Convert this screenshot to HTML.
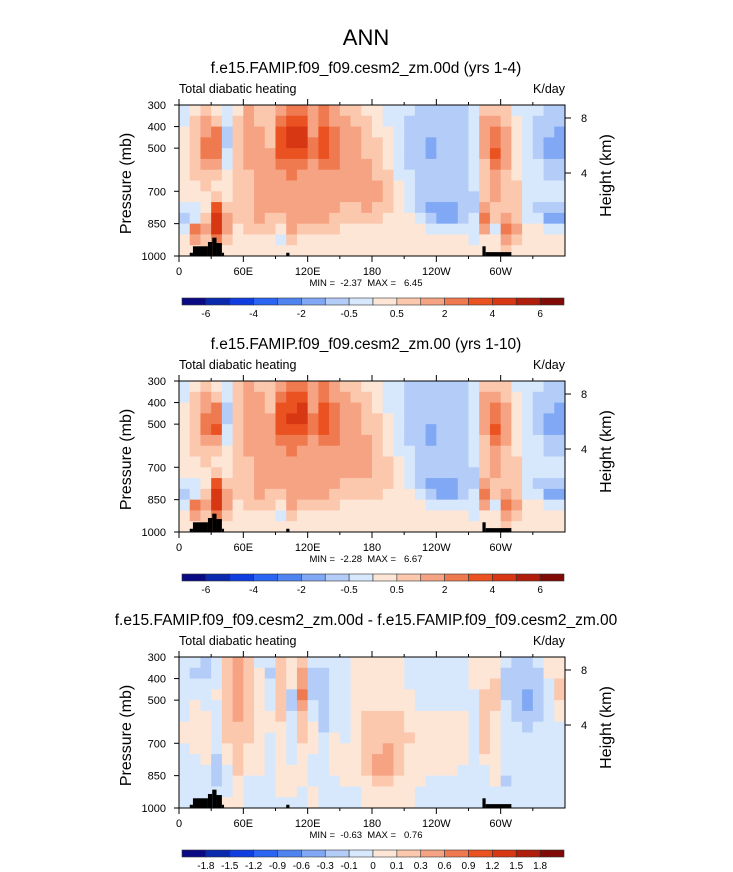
<!DOCTYPE html>
<html><head><meta charset="utf-8">
<style>
html,body{margin:0;padding:0;background:#fff;}
svg{display:block;font-family:"Liberation Sans",sans-serif;}
</style></head>
<body>
<svg id="fig" width="733" height="872" viewBox="0 0 733 872" xmlns="http://www.w3.org/2000/svg">
<text x="366" y="45" font-size="22" text-anchor="middle">ANN</text>
</svg>
<script>
// ---- data ----
const levels = [325,375,425,475,525,575,625,675,725,775,825,875,925,975];
const lonCenters = [5,15,25,35,45,55,65,75,85,95,105,115,125,135,145,155,165,175,185,195,205,215,225,235,245,255,265,275,285,295,305,315,325,335,345,355];
const xTickLabels = ["0","60E","120E","180","120W","60W"];
const xTickLons = [0,60,120,180,240,300];
const pTicks = [300,400,500,700,850,1000];
const hTicks = ["8","4"];
const boundsMain = [-6,-5,-4,-3,-2,-1,-0.5,0,0.5,1,2,3,4,5,6];
const labelsMain = ["-6","","-4","","-2","","-0.5","","0.5","","2","","4","","6"];
const boundsDiff = [-1.8,-1.5,-1.2,-0.9,-0.6,-0.3,-0.1,0,0.1,0.3,0.6,0.9,1.2,1.5,1.8];
const labelsDiff = ["-1.8","-1.5","-1.2","-0.9","-0.6","-0.3","-0.1","0","0.1","0.3","0.6","0.9","1.2","1.5","1.8"];
const colors = ["#0a0a85","#0a2aae","#0f3de0","#2a64f2","#4f84f0","#80a8f4","#b4cdf8","#d7e8fc","#fde6d6","#fbc7ad","#f5a383","#f07a50","#eb5222","#d73712","#b11d0b","#800a06"];
const topo = [[10,13,985],[13,27,955],[27,31,935],[31,35,915],[35,40,940],[40,42,985],[100,103,985],[283,286,955],[286,310,982]];
const heating4 = [
[-0.3,-0.3,0.3,0.3,0.3,0.3,0.3,0.3,0.3,-0.3,-0.8,-0.3,0.3,0.3],
[0.3,0.7,0.7,0.7,0.7,0.7,0.7,0.3,0.3,-0.3,-0.3,2,1,0.3],
[0.7,1.5,1.5,2.5,2.5,1.5,0.7,0.7,0.3,0.3,0.7,1.5,0.7,0.7],
[0.3,0.7,2,2.5,2.5,1.5,0.7,0.3,0.7,3,4,4,2,1],
[-0.3,-0.3,-0.6,-0.6,-0.3,-0.3,0.3,0.3,0.3,0.7,1.5,1.5,0.7,0.3],
[0.3,0.7,0.7,0.7,0.7,0.7,0.7,0.7,0.7,0.7,0.7,0.3,0.3,0.3],
[1.5,1.5,1.5,1.5,1.5,1.5,0.7,0.7,0.7,0.7,0.7,0.7,0.3,0.3],
[0.7,0.7,1.5,1.5,1.5,1.5,1.5,1.5,1.5,1.5,1.5,0.7,0.3,0.3],
[0.7,0.7,0.7,0.7,1.5,1.5,1.5,1.5,1.5,1.5,0.7,0.7,0.3,0.3],
[1.5,2.5,3.5,3.5,3.5,2.5,1.5,1.5,1.5,1.5,0.7,0.3,-0.3,0.3],
[2.5,3.5,4.5,4.5,3.5,2.5,2.5,1.5,1.5,1.5,1.5,1.5,0.7,0.3],
[2.5,3.5,4.5,4.5,3.5,2.5,1.5,1.5,1.5,1.5,1.5,0.7,0.3,0.3],
[1.5,1.5,1.5,2.5,2.5,1.5,1.5,1.5,1.5,1.5,1.5,0.7,0.3,0.3],
[2.5,2.5,3.5,3.5,3.5,2.5,1.5,1.5,1.5,1.5,1.5,0.7,0.3,0.3],
[1.5,1.5,2.5,2.5,2.5,2.5,1.5,1.5,1.5,1.5,0.7,0.7,0.3,0.3],
[0.7,1.5,1.5,1.5,1.5,1.5,1.5,1.5,1.5,0.7,0.7,0.3,0.3,0.3],
[0.7,0.7,1.5,1.5,1.5,1.5,1.5,1.5,1.5,0.7,0.7,0.3,0.3,0.3],
[0.3,0.7,0.7,0.7,0.7,1.5,1.5,1.5,1.5,1.5,0.7,0.3,0.3,0.3],
[0.3,0.3,0.3,0.7,0.7,0.7,0.7,1.5,1.5,0.7,0.7,0.3,0.3,0.3],
[-0.3,-0.3,0.3,0.3,0.3,0.3,0.7,0.7,0.7,0.7,0.3,0.3,0.3,0.3],
[-0.3,-0.3,-0.3,-0.3,-0.3,-0.3,-0.3,0.3,0.3,0.3,0.3,0.3,0.3,0.3],
[-0.3,-0.7,-0.7,-0.7,-0.7,-0.7,-0.3,-0.3,-0.3,-0.3,0.3,0.3,0.3,0.3],
[-0.7,-0.7,-0.7,-0.7,-0.7,-0.7,-0.7,-0.7,-0.7,-0.7,-0.3,0.3,0.3,0.3],
[-0.7,-0.7,-0.7,-1.2,-1.2,-0.7,-0.7,-0.7,-0.7,-1.2,-0.7,-0.3,0.3,0.3],
[-0.7,-0.7,-0.7,-0.7,-0.7,-0.7,-0.7,-0.7,-0.7,-1.2,-1.2,-0.3,0.3,0.3],
[-0.7,-0.7,-0.7,-0.7,-0.7,-0.7,-0.7,-0.7,-0.7,-1.2,-1.2,-0.3,0.3,0.3],
[-0.7,-0.7,-0.7,-0.7,-0.7,-0.7,-0.7,-0.7,-0.7,-0.7,-0.7,-0.3,0.3,0.3],
[-0.3,-0.3,-0.3,-0.3,-0.3,-0.3,-0.3,-0.3,-0.7,-0.7,-0.3,-0.3,-0.3,0.3],
[0.7,1.5,1.5,1.5,1.5,0.7,0.7,0.7,0.7,1.5,2,1,0.3,0.3],
[0.7,1.5,2,2.5,3,2,1.5,1.5,1.5,0.7,0.7,-0.3,0.3,0.3],
[0.7,0.7,1.5,1.5,1.5,1.5,0.7,0.7,0.7,0.7,1.5,2.5,1.5,0.7],
[-0.3,0.3,0.3,0.3,0.3,0.3,0.3,0.7,0.7,0.7,0.7,1.5,0.7,0.3],
[-0.3,-0.3,-0.3,-0.3,-0.3,-0.3,-0.3,-0.3,-0.3,-0.3,-0.3,0.3,0.3,0.3],
[-0.3,-0.7,-0.7,-0.7,-0.7,-0.3,-0.3,-0.3,-0.3,-0.7,-0.3,0.3,0.3,0.3],
[-0.7,-0.7,-0.7,-1.2,-1.2,-0.7,-0.7,-0.3,-0.3,-0.7,-1.2,-0.3,0.3,0.3],
[-0.7,-0.7,-1.2,-1.2,-1.2,-0.7,-0.7,-0.3,-0.3,-0.7,-1.5,-0.3,0.3,0.3]];
const heating10 = [
[-0.3,-0.3,0.3,0.3,0.3,0.3,0.3,0.3,0.3,-0.3,-0.8,-0.3,0.3,0.3],
[0.3,0.7,0.7,0.7,0.7,0.7,0.7,0.3,0.3,-0.3,-0.3,2,1,0.3],
[0.7,1.5,1.5,2.5,2.5,1.5,0.7,0.7,0.3,0.3,0.7,1.5,0.7,0.7],
[0.3,0.7,2,2.5,3,1.5,0.7,0.3,0.7,3,4,4,2,1],
[-0.3,-0.3,-0.6,-0.6,-0.3,-0.3,0.3,0.3,0.3,0.7,1.5,1.5,0.7,0.3],
[0.7,0.7,0.7,0.7,0.7,0.7,0.7,0.7,0.7,0.7,0.7,0.3,0.3,0.3],
[1.5,1.5,1.5,1.5,1.5,1.5,1.5,0.7,0.7,0.7,0.7,0.7,0.3,0.3],
[0.7,1.5,1.5,1.5,1.5,1.5,1.5,1.5,1.5,1.5,1.5,0.7,0.3,0.3],
[0.7,0.7,0.7,1.5,1.5,1.5,1.5,1.5,1.5,1.5,0.7,0.7,0.3,0.3],
[1.5,2.5,3.5,3.5,3.5,2.5,1.5,1.5,1.5,1.5,0.7,0.3,-0.3,0.3],
[2.5,3.5,3.5,4.5,3.5,2.5,2.5,1.5,1.5,1.5,1.5,1.5,0.7,0.3],
[2.5,3.5,4.5,4.5,3.5,2.5,1.5,1.5,1.5,1.5,1.5,0.7,0.3,0.3],
[1.5,1.5,1.5,2.5,2.5,1.5,1.5,1.5,1.5,1.5,1.5,0.7,0.3,0.3],
[2.5,2.5,3.5,3.5,3.5,2.5,1.5,1.5,1.5,1.5,1.5,0.7,0.3,0.3],
[1.5,1.5,2.5,2.5,2.5,2.5,1.5,1.5,1.5,1.5,0.7,0.7,0.3,0.3],
[0.7,1.5,1.5,1.5,1.5,1.5,1.5,1.5,1.5,0.7,0.7,0.3,0.3,0.3],
[0.7,0.7,1.5,1.5,1.5,1.5,1.5,1.5,1.5,0.7,0.7,0.3,0.3,0.3],
[0.3,0.7,0.7,0.7,0.7,1.5,1.5,1.5,1.5,0.7,0.7,0.3,0.3,0.3],
[0.3,0.3,0.3,0.7,0.7,0.7,0.7,0.7,0.7,0.7,0.7,0.3,0.3,0.3],
[-0.3,-0.3,-0.3,0.3,0.3,0.3,0.3,0.7,0.7,0.7,0.3,0.3,0.3,0.3],
[-0.3,-0.3,-0.3,-0.3,-0.3,-0.3,-0.3,0.3,0.3,0.3,0.3,0.3,0.3,0.3],
[-0.7,-0.7,-0.7,-0.7,-0.7,-0.7,-0.3,-0.3,-0.3,-0.3,0.3,0.3,0.3,0.3],
[-0.7,-0.7,-0.7,-0.7,-0.7,-0.7,-0.7,-0.7,-0.7,-0.7,-0.3,0.3,0.3,0.3],
[-0.7,-0.7,-0.7,-0.7,-1.2,-1.2,-0.7,-0.7,-0.7,-1.2,-0.7,-0.3,0.3,0.3],
[-0.7,-0.7,-0.7,-0.7,-0.7,-0.7,-0.7,-0.7,-0.7,-1.2,-1.2,-0.3,0.3,0.3],
[-0.7,-0.7,-0.7,-0.7,-0.7,-0.7,-0.7,-0.7,-0.7,-1.2,-1.2,-0.3,0.3,0.3],
[-0.7,-0.7,-0.7,-0.7,-0.7,-0.7,-0.7,-0.7,-0.7,-0.7,-0.7,-0.3,0.3,0.3],
[-0.3,-0.3,-0.3,-0.3,-0.3,-0.3,-0.3,-0.3,-0.7,-0.7,-0.3,-0.3,-0.3,0.3],
[0.7,1.5,1.5,1.5,1.5,0.7,0.7,0.7,0.7,1.5,2,1,0.3,0.3],
[0.7,1.5,2,2.5,3,2,1.5,1.5,1.5,0.7,0.7,-0.3,0.3,0.3],
[0.7,0.7,1.5,1.5,1.5,1.5,0.7,0.7,0.7,0.7,1.5,2.5,1.5,0.7],
[-0.3,0.3,0.3,0.3,0.3,0.3,0.3,0.7,0.7,0.7,0.7,1.5,0.7,0.3],
[-0.3,-0.3,-0.3,-0.3,-0.3,-0.3,-0.3,-0.3,-0.3,-0.3,-0.3,0.3,0.3,0.3],
[-0.3,-0.7,-0.7,-0.7,-0.7,-0.3,-0.3,-0.3,-0.3,-0.7,-0.3,0.3,0.3,0.3],
[-0.7,-0.7,-0.7,-1.2,-1.2,-0.7,-0.7,-0.3,-0.3,-0.7,-1.2,-0.3,0.3,0.3],
[-0.7,-0.7,-1.2,-1.2,-1.2,-0.7,-0.7,-0.3,-0.3,-0.7,-1.5,-0.3,0.3,0.3]];
const heatingDiff = [
[-0.05,-0.05,-0.05,-0.05,-0.05,-0.05,0.05,0.05,-0.05,-0.05,-0.05,-0.05,-0.05,-0.05],
[-0.05,-0.2,-0.05,-0.05,0.05,0.05,0.05,0.05,0.05,-0.05,-0.05,-0.05,-0.05,-0.05],
[-0.2,-0.2,-0.05,-0.05,-0.05,0.05,0.05,0.05,0.05,0.05,-0.05,-0.05,-0.05,-0.05],
[-0.05,-0.05,-0.05,0.05,-0.05,-0.05,-0.05,-0.05,-0.05,-0.2,-0.2,-0.2,-0.05,-0.05],
[0.2,0.2,0.2,0.2,0.2,0.2,0.2,0.2,0.05,0.05,-0.05,-0.05,-0.05,0.05],
[0.4,0.4,0.4,0.4,0.4,0.4,0.2,0.2,0.2,0.2,0.2,0.05,0.05,0.05],
[0.2,0.2,0.2,0.2,0.2,0.2,0.2,0.2,0.05,0.05,0.05,-0.05,-0.05,-0.05],
[-0.05,0.05,0.05,0.05,0.05,0.05,0.05,0.05,0.05,0.05,0.05,-0.05,-0.05,-0.05],
[-0.05,-0.2,-0.05,-0.05,-0.05,0.05,0.05,-0.05,-0.05,-0.05,-0.05,-0.05,-0.05,-0.05],
[0.2,0.2,0.2,0.2,0.2,0.2,0.05,0.05,0.05,0.05,0.05,0.05,0.05,-0.05],
[0.05,0.05,0.05,-0.2,-0.2,-0.05,-0.05,-0.05,-0.05,-0.05,0.05,0.05,0.05,-0.05],
[0.2,0.4,0.4,0.6,0.4,0.2,0.2,0.2,0.05,0.05,0.05,0.05,-0.05,-0.05],
[-0.05,-0.2,-0.2,-0.2,-0.05,-0.05,0.05,0.05,0.05,-0.05,-0.05,-0.05,0.05,0.05],
[-0.05,-0.2,-0.2,-0.2,-0.2,-0.2,-0.2,-0.05,-0.05,-0.05,-0.05,-0.05,-0.05,-0.05],
[-0.05,-0.05,-0.05,-0.05,-0.05,-0.05,-0.05,0.05,0.05,0.05,0.05,-0.05,-0.05,-0.05],
[-0.05,-0.05,-0.05,-0.05,-0.05,-0.05,-0.05,-0.05,0.05,0.05,0.05,0.05,-0.05,-0.05],
[0.05,0.05,0.05,0.05,0.05,0.05,0.05,0.05,0.05,0.05,0.05,0.05,-0.05,-0.05],
[0.05,0.05,0.05,0.05,0.05,0.2,0.2,0.2,0.2,0.2,0.2,0.05,0.05,0.05],
[0.05,0.05,0.05,0.05,0.05,0.2,0.2,0.2,0.2,0.4,0.4,0.2,0.05,0.05],
[0.05,0.05,0.05,0.05,0.05,0.2,0.2,0.2,0.4,0.4,0.4,0.2,0.05,0.05],
[0.05,0.05,0.05,0.05,0.05,0.2,0.2,0.2,0.2,0.2,0.2,0.05,0.05,0.05],
[-0.05,-0.05,-0.05,0.05,0.05,0.05,0.05,0.2,0.05,0.05,0.05,0.05,0.05,0.05],
[-0.05,-0.05,-0.05,-0.05,-0.05,0.05,0.05,0.05,0.05,0.05,0.05,0.05,-0.05,-0.05],
[-0.05,-0.05,-0.05,-0.05,-0.05,0.05,0.05,0.05,0.05,0.05,0.05,-0.05,-0.05,-0.05],
[-0.05,-0.05,-0.05,-0.05,-0.05,0.05,0.05,0.05,0.05,0.05,0.05,-0.05,-0.05,-0.05],
[-0.05,-0.05,-0.05,-0.05,-0.05,0.05,0.05,0.05,0.05,0.05,0.05,-0.05,-0.05,-0.05],
[-0.05,-0.05,-0.05,-0.05,-0.05,0.05,0.05,0.05,0.05,0.05,-0.05,-0.05,-0.05,-0.05],
[0.05,0.05,0.05,-0.05,-0.05,-0.05,-0.05,-0.05,-0.05,-0.05,-0.05,-0.05,-0.05,-0.05],
[0.05,0.05,0.05,0.2,0.2,0.2,0.2,0.2,0.2,0.05,-0.05,-0.05,-0.05,-0.05],
[0.05,0.05,0.2,0.2,0.2,0.05,0.05,0.05,0.05,0.05,0.05,0.05,-0.05,-0.05],
[-0.05,-0.2,-0.2,-0.2,-0.05,-0.05,-0.05,-0.05,-0.05,-0.05,-0.05,-0.2,-0.05,-0.05],
[-0.2,-0.2,-0.2,-0.2,-0.2,-0.2,-0.05,-0.05,-0.05,-0.05,-0.05,-0.05,-0.05,-0.05],
[-0.2,-0.2,-0.2,-0.4,-0.4,-0.2,-0.2,-0.05,-0.05,-0.05,-0.05,-0.05,-0.05,-0.05],
[-0.05,-0.2,-0.2,-0.2,-0.2,-0.2,-0.05,-0.05,-0.05,-0.05,-0.05,-0.05,-0.05,-0.05],
[0.05,0.05,-0.05,-0.05,-0.05,-0.05,-0.05,-0.05,-0.05,-0.05,-0.05,-0.05,-0.05,-0.05],
[0.05,0.05,0.2,0.2,0.05,0.05,-0.05,-0.05,-0.05,-0.05,-0.05,-0.05,-0.05,-0.05]];

// ---- drawing ----
const NS = "http://www.w3.org/2000/svg";
const fig = document.getElementById("fig");
const X0 = 179, X1 = 565, PH = 151;
function xs(lon){ return X0 + lon*(X1-X0)/360; }
function mk(tag, attrs, parent){
  const e = document.createElementNS(NS, tag);
  for (const k in attrs) e.setAttribute(k, attrs[k]);
  (parent||fig).appendChild(e);
  return e;
}
function txt(x,y,s,size,anchor,parent){
  const t = mk("text",{x:x,y:y,"font-size":size,"text-anchor":anchor||"start"},parent);
  t.textContent = s;
  return t;
}
function colorFor(v,bounds){
  let i=0; while(i<bounds.length && v>=bounds[i]) i++;
  return colors[i];
}
function panel(top, title, data, bounds, labels, minmax, name){
  const ys = p => top + (p-300)/700*PH;
  const g = mk("g",{});
  
  
  const tt = txt(366, top-32, title, 15.5, "middle", g);
  
  
  const st = txt(X0, top-12, "Total diabatic heating", 12.5, "start", g);
  
  
  const ut = txt(X1, top-12, "K/day", 12.5, "end", g);
  
  
  const dlon = 10, dp = 50;
  for (let i=0;i<lonCenters.length;i++){
    for (let j=0;j<levels.length;j++){
      const x0 = xs(lonCenters[i]-dlon/2), x1 = xs(lonCenters[i]+dlon/2);
      const y0 = ys(levels[j]-dp/2), y1 = ys(levels[j]+dp/2);
      const c = colorFor(data[i][j],bounds);
      const r = mk("rect",{x:x0,y:y0,width:x1-x0+0.4,height:y1-y0+0.4,fill:c},g);
      
      
    }
  }
  topo.forEach(s=>{
    const r = mk("rect",{x:xs(s[0]),y:ys(s[2]),width:xs(s[1])-xs(s[0]),height:ys(1000)-ys(s[2]),fill:"#000"},g);
    
    
  });
  const fr = mk("rect",{x:X0,y:top,width:X1-X0,height:PH,fill:"none",stroke:"#000","stroke-width":1},g);
  
  
  for (let l=0;l<360;l+=30){
    const len = (l%60===0)?6:3;
    mk("line",{x1:xs(l),x2:xs(l),y1:top,y2:top-len,stroke:"#000"},g);
    mk("line",{x1:xs(l),x2:xs(l),y1:top+PH,y2:top+PH+len,stroke:"#000"},g);
  }
  xTickLabels.forEach((s,i)=>{
    const t = txt(xs(xTickLons[i]), top+PH+19, s, 11, "middle", g);
    
    
  });
  pTicks.forEach(p=>{
    mk("line",{x1:X0,x2:X0-5,y1:ys(p),y2:ys(p),stroke:"#000"},g);
    const t = txt(166, ys(p)+4, String(p), 11, "end", g);
    
    
  });
  const hy = [top+13, top+68];
  hTicks.forEach((s,i)=>{
    mk("line",{x1:X1,x2:X1+6,y1:hy[i],y2:hy[i],stroke:"#000"},g);
    const t = txt(X1+16, hy[i]+4, s, 11, "start", g);
    
    
  });
  const yl = txt(0,0,"Pressure (mb)",16,"middle",g);
  yl.setAttribute("transform","translate(131,"+(top+PH/2+3)+") rotate(-90)");
  
  
  const hl = txt(0,0,"Height (km)",16,"middle",g);
  hl.setAttribute("transform","translate(611,"+(top+PH/2-5)+") rotate(-90)");
  
  
  const mm = txt(366, top+PH+30, minmax, 9.5, "middle", g);
  mm.setAttribute("xml:space","preserve");
  mm.style.whiteSpace = "pre";
  
  
  const cbY = top+193, cbX = 182, cbW = 382, bw = cbW/16;
  for (let k=0;k<16;k++){
    const r = mk("rect",{x:cbX+k*bw,y:cbY,width:bw,height:7,fill:colors[k],stroke:"#333","stroke-width":0.6},g);
    
    
  }
  labels.forEach((s,k)=>{
    if(!s) return;
    const t = txt(cbX+(k+1)*bw, cbY+19, s, 10, "middle", g);
    
    
  });
}
panel(105, "f.e15.FAMIP.f09_f09.cesm2_zm.00d (yrs 1-4)", heating4, boundsMain, labelsMain, "MIN =  -2.37  MAX =   6.45", "panel-test");
panel(381, "f.e15.FAMIP.f09_f09.cesm2_zm.00 (yrs 1-10)", heating10, boundsMain, labelsMain, "MIN =  -2.28  MAX =   6.67", "panel-control");
panel(657, "f.e15.FAMIP.f09_f09.cesm2_zm.00d - f.e15.FAMIP.f09_f09.cesm2_zm.00", heatingDiff, boundsDiff, labelsDiff, "MIN =  -0.63  MAX =   0.76", "panel-difference");
</script>
</body></html>
